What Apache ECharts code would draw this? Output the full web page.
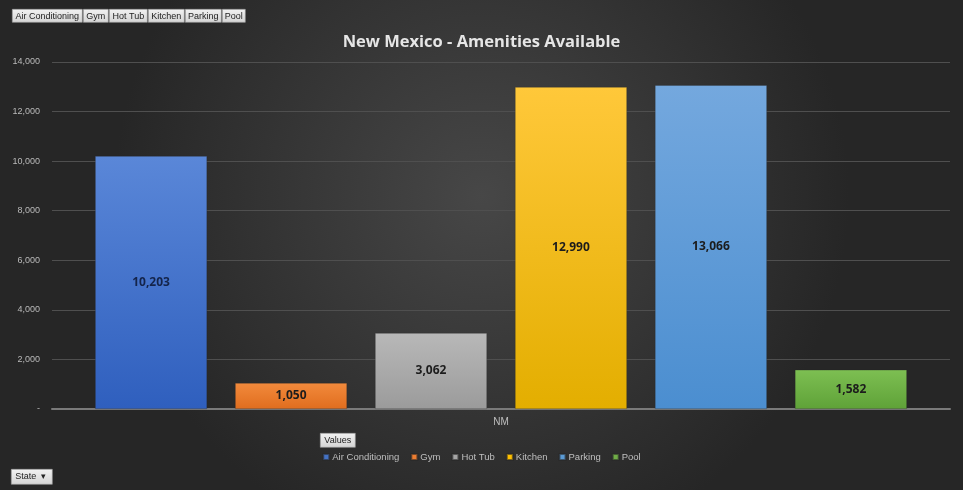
<!DOCTYPE html>
<html>
<head>
<meta charset="utf-8">
<script src="https://cdn.jsdelivr.net/npm/echarts@6/dist/echarts.min.js"></script>
<style>
html,body{margin:0;padding:0;background:#fff;}
#c{width:963px;height:490px;}
</style>
</head>
<body>
<div id="c"></div>
<script>
var categories = ['NM'];
var seriesNames = ['Air Conditioning', 'Gym', 'Hot Tub', 'Kitchen', 'Parking', 'Pool'];
var values = [10203, 1050, 3062, 12990, 13066, 1582];
var yTicks = { min: 0, max: 14000, interval: 2000 };
var colorsTop = ['#5a87d8', '#f28a3c', '#b8b8b8', '#ffc83a', '#74a8de', '#7dbf52'];
var colorsBottom = ['#2f5fbe', '#e06d1e', '#9b9b9b', '#e3ae00', '#4b8ed0', '#5fa238'];
var legendColors = ['#4472c4', '#ed7d31', '#a5a5a5', '#ffc000', '#5b9bd5', '#70ad47'];
var filterButtons = ['Air Conditioning', 'Gym', 'Hot Tub', 'Kitchen', 'Parking', 'Pool'];

var chart = echarts.init(document.getElementById('c'));

function fmt(v) {
  if (v === 0) return '-';
  return v.toString().replace(/\B(?=(\d{3})+(?!\d))/g, ',');
}

var series = seriesNames.map(function (name, i) {
  return {
    name: name,
    type: 'bar',
    barGap: '25%',
    barCategoryGap: '9.6%',
    data: [values[i]],
    itemStyle: {
      color: new echarts.graphic.LinearGradient(0, 0, 0, 1, [
        { offset: 0, color: colorsTop[i] },
        { offset: 1, color: colorsBottom[i] }
      ]),
      borderColor: 'rgba(40,40,40,0.6)',
      borderWidth: 0.5
    },
    label: {
      show: true,
      position: 'inside',
      formatter: function (p) { return fmt(p.value); },
      color: i === 0 ? '#14244a' : '#1c1c1c',
      fontWeight: 'bold',
      fontSize: 12,
      fontFamily: 'Open Sans'
    }
  };
});

var graphics = [];
var btnX = 12;
var btnWidths = [70, 25, 38, 36, 36, 23];
filterButtons.forEach(function (t, i) {
  graphics.push({
    type: 'group', left: btnX, top: 9,
    children: [
      { type: 'rect', shape: { x: 0, y: 0, width: btnWidths[i], height: 13 },
        style: { fill: new echarts.graphic.LinearGradient(0, 0, 0, 1, [{offset:0,color:'#f2f2f2'},{offset:1,color:'#d4d4d4'}]), stroke: '#9a9a9a', lineWidth: 0.6 } },
      { type: 'text', x: btnWidths[i] / 2, y: 7,
        style: { text: t, fill: '#222', font: '9px "Liberation Sans"', textAlign: 'center', textVerticalAlign: 'middle' } }
    ]
  });
  btnX += btnWidths[i] + 1;
});
graphics.push({
  type: 'group', left: 320, top: 433,
  children: [
    { type: 'rect', shape: { x: 0, y: 0, width: 35, height: 14 },
      style: { fill: new echarts.graphic.LinearGradient(0, 0, 0, 1, [{offset:0,color:'#f2f2f2'},{offset:1,color:'#d4d4d4'}]), stroke: '#9a9a9a', lineWidth: 0.6 } },
    { type: 'text', x: 17.5, y: 7,
      style: { text: 'Values', fill: '#222', font: '9px "Liberation Sans"', textAlign: 'center', textVerticalAlign: 'middle' } }
  ]
});
graphics.push({
  type: 'group', left: 11, top: 469,
  children: [
    { type: 'rect', shape: { x: 0, y: 0, width: 41, height: 15 },
      style: { fill: new echarts.graphic.LinearGradient(0, 0, 0, 1, [{offset:0,color:'#f2f2f2'},{offset:1,color:'#d4d4d4'}]), stroke: '#9a9a9a', lineWidth: 0.6 } },
    { type: 'text', x: 4, y: 7.5,
      style: { text: 'State  \u25BE', fill: '#222', font: '9px "Liberation Sans"', textAlign: 'left', textVerticalAlign: 'middle' } }
  ]
});

var option = {
  backgroundColor: new echarts.graphic.RadialGradient(0.5, 0.4, 0.75, [
    { offset: 0, color: '#474747' },
    { offset: 1, color: '#262626' }
  ]),
  animation: false,
  title: {
    text: 'New Mexico - Amenities Available',
    left: 'center',
    top: 29,
    textStyle: { color: '#e6e6e6', fontSize: 16.5, fontWeight: 'bold', fontFamily: 'Open Sans' }
  },
  legend: {
    data: seriesNames.map(function (n, i) { return { name: n, itemStyle: { color: legendColors[i] } }; }),
    top: 447,
    left: 'center',
    itemWidth: 6,
    itemHeight: 6,
    itemGap: 11,
    icon: 'rect',
    textStyle: { color: '#bfbfbf', fontSize: 9.5, fontFamily: 'Liberation Sans', padding: [0, 0, 0, -2] }
  },
  grid: { left: 52, right: 13, top: 62, bottom: 81, containLabel: false },
  xAxis: {
    type: 'category',
    data: categories,
    axisLine: { lineStyle: { color: '#7a7a7a', width: 2 } },
    axisTick: { show: false },
    axisLabel: { color: '#bfbfbf', fontSize: 10, fontFamily: 'Liberation Sans', margin: 8 }
  },
  yAxis: {
    type: 'value',
    min: yTicks.min,
    max: yTicks.max,
    interval: yTicks.interval,
    axisLine: { show: false },
    axisTick: { show: false },
    splitLine: { lineStyle: { color: '#4f4f4f', width: 1 } },
    axisLabel: { color: '#bababa', fontSize: 9, fontFamily: 'Liberation Sans', margin: 12, formatter: fmt }
  },
  series: series,
  graphic: graphics
};
chart.setOption(option);
</script>
</body>
</html>
